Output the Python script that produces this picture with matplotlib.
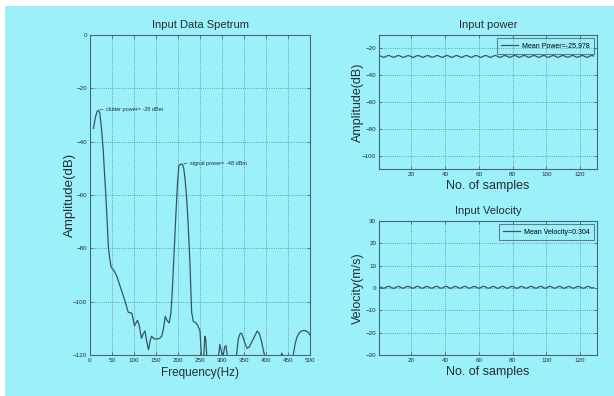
import matplotlib
matplotlib.use("Agg")
import matplotlib.pyplot as plt
from matplotlib.patches import Rectangle

plt.rcParams['font.family'] = ['Liberation Sans', 'DejaVu Sans']

# spectrum of the input data
freq = [8, 12, 16, 19, 22, 26, 30, 33, 36, 39, 42, 45, 48, 55, 61, 70, 80, 87, 95, 101,
        108, 112, 117, 121, 125, 129, 133, 137, 140, 146, 152, 158, 163, 167, 171, 175, 180,
        184, 187, 191, 195, 199, 202, 206, 210, 213, 216, 220, 223, 227, 231, 235, 240, 245,
        250, 253, 256, 258, 261, 263, 266, 270, 280, 290, 295, 299, 302, 306, 309, 312, 316,
        325, 333, 337, 341, 344, 347, 352, 357, 362, 368, 374, 380, 385, 390, 395, 400, 410,
        425, 432, 436, 440, 450, 458, 462, 466, 470, 475, 481, 486, 491, 496, 500]
amp = [-35, -31, -28.8, -28.2, -29, -35, -43, -52, -60, -70, -80, -84, -87, -88.5, -90.5,
       -95, -100, -104, -104.3, -109, -107, -109, -113.8, -112, -111, -115, -118, -114.5,
       -113, -114, -114, -113.8, -113, -110, -105.5, -107, -108, -104, -96, -82, -68, -55,
       -49, -48.5, -48.4, -50, -54, -62, -70.6, -85, -104, -107.5, -107.8, -109, -111, -120,
       -127, -122, -113, -114, -122, -130, -135, -124, -116, -119, -121, -117, -116.5, -120,
       -126, -130, -120, -114, -112, -111.8, -113, -115.5, -117.5, -117, -115, -113, -111,
       -112, -115, -119, -122, -128, -125, -121, -119.3, -121, -125, -123, -120, -116,
       -113.5, -111.8, -111, -110.8, -111, -111.5, -112.5]

clutter_f, clutter_p = 19, -28
signal_f, signal_p = 210, -48

# per-sample input power (dB) and velocity (m/s)
power = [-25.4, -25.7, -26.4, -26.6, -26.1, -25.5, -25.3, -25.9, -26.5, -26.6, -26.0, -25.4, -25.4, -26.0, -26.6, -26.5,
         -25.9, -25.4, -25.5, -26.2, -26.7, -26.4, -25.7, -25.3, -25.6, -26.3, -26.7, -26.2, -25.6, -25.3, -25.8, -26.5,
         -26.6, -26.0, -25.4, -25.4, -26.0, -26.6, -26.5, -25.8, -25.3, -25.5, -26.2, -26.7, -26.3, -25.6, -25.3, -25.7,
         -26.4, -26.7, -26.1, -25.5, -25.3, -25.9, -26.5, -26.6, -25.9, -25.4, -25.4, -26.1, -26.7, -26.4, -25.7, -25.3,
         -25.6, -26.3, -26.7, -26.2, -25.5, -25.3, -25.8, -26.5, -26.6, -26.0, -25.4, -25.4, -26.0, -26.6, -26.5, -25.8,
         -25.3, -25.5, -26.2, -26.7, -26.3, -25.6, -25.3, -25.7, -26.4, -26.7, -26.1, -25.5, -25.3, -25.9, -26.5, -26.6,
         -25.9, -25.4, -25.4, -26.1, -26.7, -26.4, -25.7, -25.3, -25.6, -26.3, -26.7, -26.2, -25.5, -25.3, -25.8, -26.5,
         -26.6, -26.0, -25.4, -25.4, -26.0, -26.6, -26.5, -25.8, -25.3, -25.5, -26.2, -26.7, -26.3, -25.6, -25.3, -25.7]
velocity = [0.70, 0.45, 0.00, -0.10, 0.25, 0.65, 0.70, 0.35, -0.05, -0.10, 0.30, 0.70, 0.65, 0.20, -0.10, 0.05,
            0.50, 0.75, 0.55, 0.10, -0.10, 0.15, 0.60, 0.75, 0.40, -0.05, -0.05, 0.35, 0.70, 0.60, 0.15, -0.10,
            0.10, 0.55, 0.75, 0.50, 0.05, -0.10, 0.20, 0.65, 0.70, 0.30, -0.10, 0.00, 0.45, 0.75, 0.55, 0.10,
            -0.10, 0.15, 0.60, 0.75, 0.40, -0.05, -0.05, 0.35, 0.70, 0.60, 0.15, -0.10, 0.10, 0.55, 0.75, 0.50,
            0.05, -0.10, 0.20, 0.65, 0.70, 0.30, -0.10, 0.00, 0.45, 0.75, 0.55, 0.10, -0.10, 0.15, 0.60, 0.75,
            0.40, -0.05, -0.05, 0.35, 0.70, 0.60, 0.15, -0.10, 0.10, 0.55, 0.75, 0.50, 0.05, -0.10, 0.20, 0.65,
            0.70, 0.30, -0.10, 0.00, 0.45, 0.75, 0.55, 0.10, -0.10, 0.15, 0.60, 0.75, 0.40, -0.05, -0.05, 0.35,
            0.70, 0.60, 0.15, -0.10, 0.10, 0.55, 0.75, 0.50, 0.05, -0.10, 0.20, 0.65, 0.70, 0.30, -0.10, 0.20]
samples = list(range(1, len(power) + 1))
mean_power = -25.978
mean_velocity = 0.304

bg = '#9cf0fa'
line_c = '#37565f'
edge_c = '#4a6670'
text_c = '#222e33'

fig = plt.figure(figsize=(6.14, 3.96), dpi=100, facecolor='white')
fig.patches.append(Rectangle((5 / 614, 0), 1, 1 - 6 / 396, transform=fig.transFigure,
                             facecolor=bg, edgecolor='none', zorder=-10))


def style(ax):
    ax.set_facecolor('none')
    for s in ax.spines.values():
        s.set_color(edge_c)
        s.set_linewidth(0.8)
    ax.tick_params(direction='in', length=2, width=0.6, colors=edge_c, labelcolor=text_c,
                   labelsize=4.5, top=True, right=True, pad=2)
    ax.grid(True, linestyle=':', linewidth=0.6, color='#5f7f88')


def add_legend(ax):
    leg = ax.legend(loc='upper right', fontsize=5, frameon=True, fancybox=False,
                    handlelength=2.4, handletextpad=0.5, borderpad=0.6, borderaxespad=0.5)
    leg.get_frame().set_facecolor('none')
    leg.get_frame().set_edgecolor(edge_c)
    leg.get_frame().set_linewidth(0.8)


ax1 = fig.add_axes([90 / 614, 1 - 355 / 396, 220 / 614, 320 / 396])
ax1.plot(freq, amp, color=line_c, linewidth=0.9)
ax1.set_xlim(0, 500)
ax1.set_ylim(-120, 0)
ax1.set_xticks(range(0, 501, 50))
ax1.set_yticks(range(-120, 1, 20))
style(ax1)
ax1.set_title('Input Data Spetrum', fontsize=8, color=text_c, pad=5)
ax1.set_xlabel('Frequency(Hz)', fontsize=8.5, color=text_c, labelpad=3)
ax1.set_ylabel('Amplitude(dB)', fontsize=9.5, color=text_c)
ax1.yaxis.set_label_coords(-0.065, 0.5)
ax1.text(clutter_f + 1, clutter_p, '\u2190 clutter power= %d dBm' % clutter_p,
         fontsize=4, color=text_c, va='center')
ax1.text(signal_f + 1, signal_p, '\u2190 signal power= %d dBm' % signal_p,
         fontsize=4, color=text_c, va='center')

ax2 = fig.add_axes([379 / 614, 1 - 169 / 396, 218 / 614, 134 / 396])
ax2.plot(samples, power, color=line_c, linewidth=0.9, label='Mean Power=%.3f' % mean_power)
ax2.set_xlim(1, 130)
ax2.set_ylim(-110, -10)
ax2.set_xticks(range(20, 121, 20))
ax2.set_yticks(range(-100, -19, 20))
style(ax2)
ax2.set_title('Input power', fontsize=8, color=text_c, pad=5)
ax2.set_xlabel('No. of samples', fontsize=9, color=text_c, labelpad=2)
ax2.set_ylabel('Amplitude(dB)', fontsize=9, color=text_c)
ax2.yaxis.set_label_coords(-0.07, 0.5)
add_legend(ax2)

ax3 = fig.add_axes([379 / 614, 1 - 355 / 396, 218 / 614, 134 / 396])
ax3.plot(samples, velocity, color=line_c, linewidth=0.9, label='Mean Velocity=%.3f' % mean_velocity)
ax3.set_xlim(1, 130)
ax3.set_ylim(-30, 30)
ax3.set_xticks(range(20, 121, 20))
ax3.set_yticks(range(-30, 31, 10))
style(ax3)
ax3.set_title('Input Velocity', fontsize=8, color=text_c, pad=5)
ax3.set_xlabel('No. of samples', fontsize=9, color=text_c, labelpad=2)
ax3.set_ylabel('Velocity(m/s)', fontsize=9, color=text_c)
ax3.yaxis.set_label_coords(-0.07, 0.5)
add_legend(ax3)

fig.savefig('out.png', dpi=100, facecolor='white')
